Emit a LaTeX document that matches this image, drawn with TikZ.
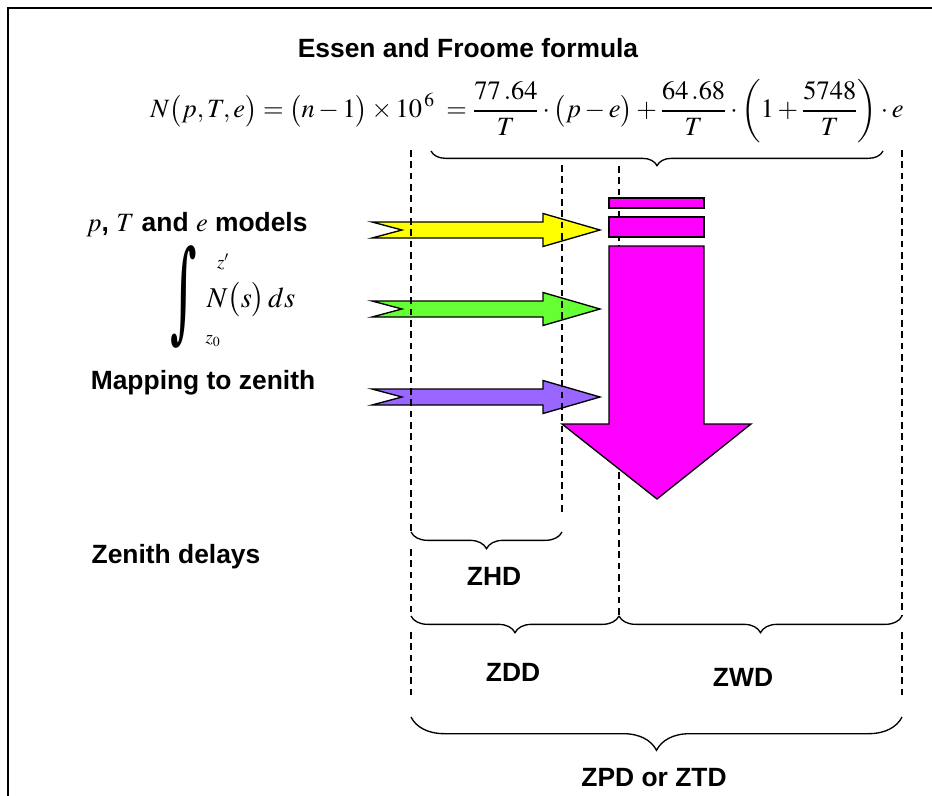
\documentclass[tikz,border=0pt]{standalone}
\usepackage{mathptmx}
\usepackage{graphicx}
\usepackage[no-math]{fontspec}
\setmainfont{Liberation Sans}
\newfontfamily\intfont{DejaVu Serif}
\usepackage{tikz}
\usetikzlibrary{decorations.pathreplacing}

\definecolor{yellowarr}{HTML}{FFFF00}
\definecolor{greenarr}{HTML}{66FF33}
\definecolor{purplearr}{HTML}{9966FF}
\definecolor{magentaarr}{HTML}{FF00FF}

\begin{document}
\begin{tikzpicture}[
  x=0.75pt, y=-0.75pt,
  font=\fontsize{19.8}{23}\selectfont\bfseries,
  lbl/.style={inner sep=0pt, anchor=center},
  lim/.style={lbl, font=\fontsize{14}{16}\selectfont},
  guide/.style={dash pattern=on 5pt off 3.5pt, line width=0.9pt},
  brc/.style={decorate, line width=1pt,
              decoration={brace, mirror, amplitude=#1}},
  flow/.style={draw, line width=1pt, line join=miter}
]
\useasboundingbox (0,0) rectangle (932,796);
\draw[line width=1.5pt] (8,796) -- (8,8) -- (932,8);

\node[lbl] (title) at (468,48) {Essen and Froome formula};
\node[lbl] (formula) at (527,111) {\mdseries\resizebox{565pt}{!}{%
  $\displaystyle N\bigl(p,T,e\bigr)=\bigl(n-1\bigr)\times 10^{\,6}\;=\frac{77\,.64}{T}\cdot\bigl(p-e\bigr)+\frac{64\,.68}{T}\cdot\left(1+\frac{5748}{T}\right)\cdot e$}};

\node[lbl] (models) at (197,225) {$p$, $T$ and $e$ models};
\node[lbl] (intsign) at (184,297) {\mdseries\resizebox*{20pt}{77pt}{\intfont\symbol{"222B}}};
\node[lim] (upper) at (223,262) {$z'$};
\node[lim] (lower) at (213,341) {$z_0$};
\node[lbl, font=\fontsize{21.5}{24}\selectfont] (nsds) at (251,300) {$N\bigl(s\bigr)\,ds$};
\node[lbl] (mapping) at (203,383) {Mapping to zenith};
\node[lbl] (delays) at (176,557) {Zenith delays};

\foreach \yc/\col in {230/yellowarr, 309/greenarr, 397/purplearr}
  \draw[flow, fill=\col] (372,\yc-8) -- (543,\yc-8) -- (543,\yc-16.5) -- (600,\yc)
    -- (543,\yc+16.5) -- (543,\yc+8) -- (372,\yc+8) -- (402,\yc) -- cycle;

\draw[guide] (411,150) -- (411,532) (411,549) -- (411,616) (411,632) -- (411,699);
\draw[guide] (562,165) -- (562,512);
\draw[guide] (619,166) -- (619,616);
\draw[guide] (902,150) -- (902,616) (902,632) -- (902,699);

\draw[flow, fill=magentaarr] (609,198) rectangle (704,208);
\draw[flow, fill=magentaarr] (609,217) rectangle (704,237);
\draw[flow, fill=magentaarr] (609,246) -- (704,246) -- (704,424) -- (751,424)
  -- (657,499) -- (562,424) -- (609,424) -- cycle;

\draw[brc=11pt] (431,151) -- (883,151);
\draw[brc=12.5pt] (411,532) -- (562,532);
\draw[brc=12.5pt] (411,616) -- (619,616);
\draw[brc=12.5pt] (619,616) -- (902,616);
\draw[brc=25pt] (411,717) -- (902,717);

\node[lbl] (zhd) at (494,576) {ZHD};
\node[lbl] (zdd) at (513,672) {ZDD};
\node[lbl] (zwd) at (743,677) {ZWD};
\node[lbl] (ztd) at (654,778) {ZPD or ZTD};
\end{tikzpicture}
\end{document}
